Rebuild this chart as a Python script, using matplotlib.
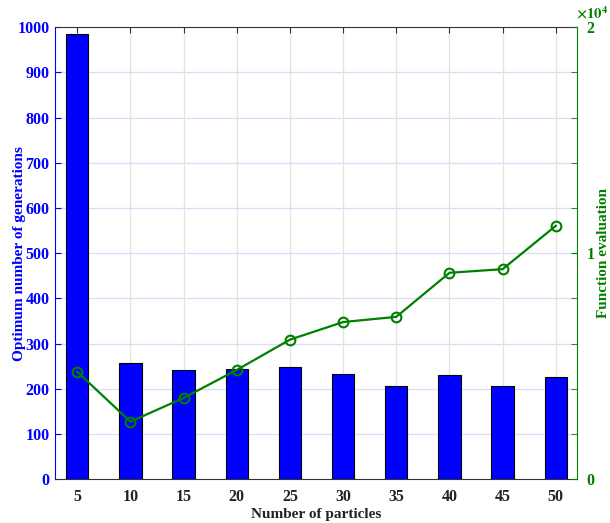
import matplotlib
matplotlib.use('Agg')
from matplotlib import pyplot as plt
from matplotlib.ticker import MultipleLocator

plt.rcParams['font.family'] = ['Liberation Serif', 'DejaVu Serif']
plt.rcParams['font.weight'] = 'bold'
plt.rcParams['mathtext.fontset'] = 'stix'

particles = [5, 10, 15, 20, 25, 30, 35, 40, 45, 50]
generations = [985, 257, 241, 243, 249, 232, 207, 230, 207, 225]
func_evals = [4750, 2540, 3590, 4830, 6170, 6950, 7180, 9130, 9290, 11210]

blue = '#0000ff'
green = '#008000'

fig = plt.figure(figsize=(6.1, 5.23), dpi=100)
ax = fig.add_axes([0.090, 0.084, 0.856, 0.864])

# grid: horizontal bluish, vertical grey
ax.set_axisbelow(True)
for g in range(100, 1000, 100):
	ax.axhline(g, color='#dcdcf8', lw=0.9, zorder=0)
for p in particles:
	ax.axvline(p, color='#e2e2e2', lw=0.9, zorder=0)

ax.bar(particles, generations, width=2.1, color=blue, edgecolor='black', lw=0.8, zorder=2)
ax.set_xlim(2.9, 52.0)
ax.set_ylim(0, 1000)
ax.set_xticks(particles)
ax.yaxis.set_major_locator(MultipleLocator(100))
ax.tick_params(axis='x', direction='in', length=4, colors='#333333', labelcolor='#222222',
			   labelsize=11.5, top=True, pad=7)
ax.tick_params(axis='y', direction='in', length=4, colors=blue, labelsize=11.5, pad=4)
ax.spines['left'].set_color(blue)
ax.spines['right'].set_visible(False)
ax.spines['top'].set_color('#333333')
ax.spines['bottom'].set_color('#333333')
ax.set_xlabel('Number of particles', fontsize=11, fontweight='bold', color='#222222')
ax.xaxis.set_label_coords(0.5, -0.064)
ax.set_ylabel('Optimum number of generations', fontsize=11, fontweight='bold', color=blue)
ax.yaxis.set_label_coords(-0.056, 0.5)

ax2 = ax.twinx()
ax2.plot(particles, func_evals, color=green, lw=1.6, marker='o', ms=7,
		 mfc='none', mec=green, mew=1.5, zorder=3)
ax2.set_ylim(0, 20000)
ax2.set_yticks([0, 10000, 20000])
ax2.set_yticklabels(['0', '1', '2'])
ax2.yaxis.set_minor_locator(MultipleLocator(2000))
ax2.tick_params(axis='y', which='both', direction='in', length=4, colors=green, labelsize=11.5, pad=7)
for s in ['left', 'top', 'bottom']:
	ax2.spines[s].set_visible(False)
ax2.spines['right'].set_color(green)
ax2.set_ylabel('Function evaluation', fontsize=11, fontweight='bold', color=green)
ax2.yaxis.set_label_coords(1.038, 0.5)
ax2.annotate(r'$\mathbf{\times 10^{4}}$', xy=(1.0, 1.0), xycoords='axes fraction',
			 xytext=(-0.5, 4), textcoords='offset points',
			 color=green, fontsize=10.5, ha='left', va='bottom')

fig.savefig('out.png', dpi=100)
